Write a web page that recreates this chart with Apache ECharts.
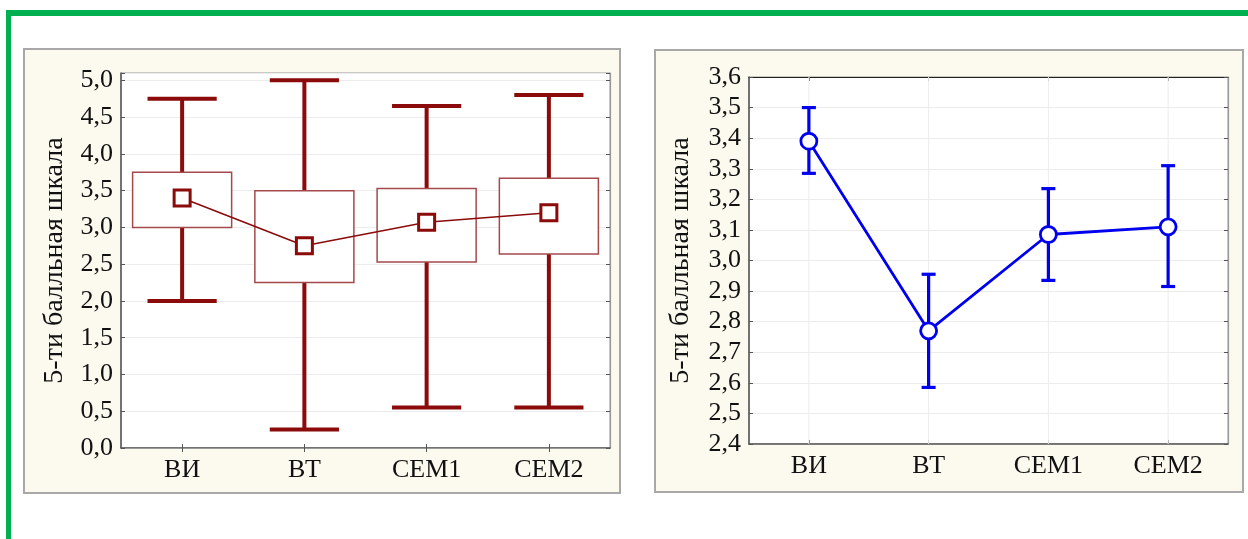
<!DOCTYPE html>
<html>
<head>
<meta charset="utf-8">
<script src="https://cdn.jsdelivr.net/npm/echarts@6/dist/echarts.min.js"></script>
<style>
html,body{margin:0;padding:0;background:#fff;}
#chart{width:1248px;height:539px;}
</style>
</head>
<body>
<div id="chart"></div>
<script>
// ---- data ----
const categories = ['ВИ', 'ВТ', 'CEM1', 'CEM2'];
const yTitle = '5-ти балльная шкала';

// left chart: mean, box (Q1..Q3), whiskers (min..max)
const leftMin  = [2.0, 0.25, 0.55, 0.55];
const leftQ1   = [3.0, 2.25, 2.53, 2.64];
const leftQ3   = [3.75, 3.5, 3.53, 3.67];
const leftMax  = [4.75, 5.0, 4.65, 4.8];
const leftMean = [3.4, 2.75, 3.07, 3.2];

// right chart: mean with error bars
const rightMean = [3.39, 2.77, 3.085, 3.11];
const rightLow  = [3.285, 2.585, 2.935, 2.915];
const rightHigh = [3.5, 2.955, 3.235, 3.31];

const FONT = "'Liberation Serif', 'Times New Roman', serif";
const DARKRED = '#8B0A0A';
const BOXRED = '#A4494C';
const BLUE = '#0000EE';

const fmt = v => {
  if (Math.abs(v * 10 - Math.round(v * 10)) > 1e-6) return '';
  return v.toFixed(1).replace('.', ',');
};
const fmtHalf = v => {
  if (Math.abs(v * 2 - Math.round(v * 2)) > 1e-6) return '';
  return v.toFixed(1).replace('.', ',');
};

const boxData = categories.map((c, i) => [i, leftMin[i], leftQ1[i], leftQ3[i], leftMax[i]]);
const errData = categories.map((c, i) => [i, rightLow[i], rightHigh[i]]);

const chart = echarts.init(document.getElementById('chart'), null, {renderer: 'canvas'});

function baseX(gridIndex, top, labelShow) {
  return {
    type: 'category', gridIndex: gridIndex, data: categories, boundaryGap: true,
    position: top ? 'top' : 'bottom',
    axisLine: {show: true, lineStyle: {color: top ? (gridIndex === 1 ? '#222' : '#999') : '#555', width: top ? 1.2 : 1.5}},
    axisTick: {show: true, inside: true, alignWithLabel: true, length: 4, lineStyle: {color: '#555'}},
    axisLabel: {show: labelShow, fontFamily: FONT, fontSize: 26, color: '#111', margin: 9},
    splitLine: {show: false}
  };
}
function baseY(gridIndex, min, max, interval, right, formatter, gap) {
  return {
    type: 'value', gridIndex: gridIndex, min: min, max: max, interval: interval,
    position: right ? 'right' : 'left',
    axisLine: {show: true, lineStyle: {color: right ? '#999' : '#555', width: right ? 1.2 : 1.5}},
    axisTick: {show: true, inside: true, length: 4, lineStyle: {color: '#555'}},
    axisLabel: {show: !right, fontFamily: FONT, fontSize: 26, color: '#111', margin: 8, formatter: formatter},
    splitLine: {show: !right, lineStyle: {color: '#ECECEC', width: 1}},
    name: right ? '' : yTitle,
    nameLocation: 'middle', nameGap: gap, nameRotate: 90,
    nameTextStyle: {fontFamily: FONT, fontSize: 28, color: '#111'}
  };
}

const option = {
  animation: false,
  backgroundColor: '#fff',
  graphic: [
    {type: 'rect', z: -100, shape: {x: 6, y: 10, width: 1242, height: 6}, style: {fill: '#00B050'}},
    {type: 'rect', z: -100, shape: {x: 6, y: 10, width: 5, height: 529}, style: {fill: '#00B050'}},
    {type: 'rect', z: -99, shape: {x: 24, y: 49, width: 596, height: 444}, style: {fill: '#FCF9EF', stroke: '#A8A8A8', lineWidth: 2}},
    {type: 'rect', z: -99, shape: {x: 655, y: 50, width: 588, height: 442}, style: {fill: '#FCF9EF', stroke: '#A8A8A8', lineWidth: 2}}
  ],
  grid: [
    {left: 121, top: 73, width: 489, height: 375, show: true, backgroundColor: '#fff', borderColor: '#999', borderWidth: 1},
    {left: 749, top: 77, width: 479, height: 367, show: true, backgroundColor: '#fff', borderColor: '#999', borderWidth: 1}
  ],
  xAxis: [
    baseX(0, false, true),
    baseX(0, true, false),
    baseX(1, false, true),
    baseX(1, true, false)
  ],
  yAxis: [
    baseY(0, 0, 5.1, 0.5, false, fmtHalf, 52),
    baseY(0, 0, 5.1, 0.5, true, fmtHalf, 0),
    baseY(1, 2.4, 3.6, 0.1, false, fmt, 54),
    baseY(1, 2.4, 3.6, 0.1, true, fmt, 0)
  ],
  series: [
    {
      type: 'custom', xAxisIndex: 0, yAxisIndex: 0, z: 3,
      data: boxData,
      encode: {x: 0, y: [1, 2, 3, 4]},
      renderItem: function (params, api) {
        const i = api.value(0);
        const band = api.size([1, 0])[0];
        const x = api.coord([i, 0])[0];
        const yMin = api.coord([i, api.value(1)])[1];
        const yQ1 = api.coord([i, api.value(2)])[1];
        const yQ3 = api.coord([i, api.value(3)])[1];
        const yMax = api.coord([i, api.value(4)])[1];
        const capW = band * 0.566;
        const boxW = band * 0.81;
        const ls = {stroke: DARKRED, lineWidth: 4, fill: null};
        return {
          type: 'group',
          children: [
            {type: 'line', shape: {x1: x, y1: yMax, x2: x, y2: yMin}, style: ls},
            {type: 'line', shape: {x1: x - capW / 2, y1: yMax, x2: x + capW / 2, y2: yMax}, style: ls},
            {type: 'line', shape: {x1: x - capW / 2, y1: yMin, x2: x + capW / 2, y2: yMin}, style: ls},
            {type: 'rect', shape: {x: x - boxW / 2, y: yQ3, width: boxW, height: yQ1 - yQ3},
             style: {fill: '#fff', stroke: BOXRED, lineWidth: 1.5}}
          ]
        };
      }
    },
    {
      type: 'line', xAxisIndex: 0, yAxisIndex: 0, z: 5,
      data: leftMean,
      symbol: 'rect', symbolSize: 16,
      itemStyle: {color: '#fff', borderColor: DARKRED, borderWidth: 3},
      lineStyle: {color: DARKRED, width: 1.5}
    },
    {
      type: 'custom', xAxisIndex: 2, yAxisIndex: 2, z: 1, silent: true,
      data: categories.map((c, i) => [i, 3.0]),
      encode: {x: 0, y: 1},
      renderItem: function (params, api) {
        const cs = params.coordSys;
        const x = api.coord([api.value(0), 3.0])[0];
        return {type: 'line', shape: {x1: x, y1: cs.y, x2: x, y2: cs.y + cs.height},
                style: {stroke: '#ECECEC', lineWidth: 1}};
      }
    },
    {
      type: 'custom', xAxisIndex: 2, yAxisIndex: 2, z: 3,
      data: errData,
      encode: {x: 0, y: [1, 2]},
      renderItem: function (params, api) {
        const i = api.value(0);
        const x = api.coord([i, 0])[0];
        const yLo = api.coord([i, api.value(1)])[1];
        const yHi = api.coord([i, api.value(2)])[1];
        const capW = 14;
        const ls = {stroke: BLUE, lineWidth: 3.2, fill: null};
        return {
          type: 'group',
          children: [
            {type: 'line', shape: {x1: x, y1: yHi, x2: x, y2: yLo}, style: ls},
            {type: 'line', shape: {x1: x - capW / 2, y1: yHi, x2: x + capW / 2, y2: yHi}, style: ls},
            {type: 'line', shape: {x1: x - capW / 2, y1: yLo, x2: x + capW / 2, y2: yLo}, style: ls}
          ]
        };
      }
    },
    {
      type: 'line', xAxisIndex: 2, yAxisIndex: 2, z: 5,
      data: rightMean,
      symbol: 'circle', symbolSize: 16,
      itemStyle: {color: '#fff', borderColor: BLUE, borderWidth: 2.8},
      lineStyle: {color: BLUE, width: 2.8}
    }
  ]
};
chart.setOption(option);
</script>
</body>
</html>
